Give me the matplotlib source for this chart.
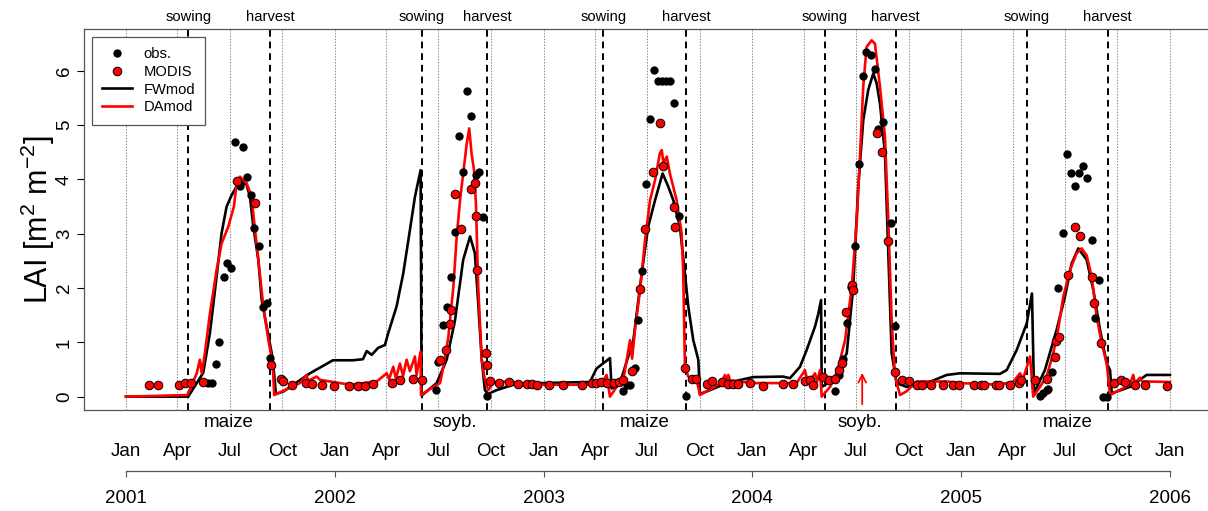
import matplotlib.pyplot as plt
import numpy as np

plt.rcParams['font.family'] = ['Liberation Sans', 'DejaVu Sans']
plt.rcParams['mathtext.default'] = 'regular'

# time axis is in decimal years
fw_t = [2001.000, 2001.298, 2001.370, 2001.402, 2001.434, 2001.458, 2001.482, 2001.506, 2001.530, 2001.554,
        2001.578, 2001.594, 2001.610, 2001.634, 2001.650, 2001.674, 2001.698, 2001.705, 2001.718, 2001.752,
        2001.881, 2001.991, 2002.087, 2002.135, 2002.153, 2002.177, 2002.208, 2002.240, 2002.256, 2002.296,
        2002.328, 2002.360, 2002.384, 2002.411, 2002.416, 2002.488, 2002.536, 2002.576, 2002.615, 2002.648,
        2002.671, 2002.687, 2002.704, 2002.719, 2002.734, 2002.775, 2002.855, 2002.983, 2003.222, 2003.254,
        2003.318, 2003.326, 2003.366, 2003.430, 2003.470, 2003.501, 2003.534, 2003.570, 2003.597, 2003.621,
        2003.653, 2003.677, 2003.693, 2003.717, 2003.741, 2003.749, 2003.797, 2003.877, 2004.003, 2004.147,
        2004.180, 2004.228, 2004.260, 2004.300, 2004.316, 2004.329, 2004.332, 2004.387, 2004.452, 2004.483,
        2004.507, 2004.531, 2004.555, 2004.579, 2004.595, 2004.611, 2004.635, 2004.651, 2004.667, 2004.691,
        2004.739, 2004.835, 2004.931, 2004.994, 2005.186, 2005.218, 2005.266, 2005.314, 2005.339, 2005.349,
        2005.401, 2005.457, 2005.497, 2005.529, 2005.561, 2005.601, 2005.633, 2005.665, 2005.697, 2005.713,
        2005.721, 2005.808, 2005.888, 2006.000]
fw_lai = [0.00, 0.00, 0.44, 1.17, 2.21, 3.01, 3.50, 3.71, 3.87, 3.96,
          3.90, 3.68, 3.13, 2.52, 1.78, 1.29, 0.80, 0.62, 0.05, 0.09,
          0.43, 0.67, 0.67, 0.69, 0.84, 0.77, 0.90, 0.95, 1.17, 1.66,
          2.27, 3.07, 3.68, 4.17, 0.02, 0.25, 0.68, 1.41, 2.52, 2.95,
          2.64, 1.72, 0.68, 0.12, 0.05, 0.12, 0.22, 0.25, 0.27, 0.52,
          0.71, 0.15, 0.25, 1.04, 2.27, 3.13, 3.62, 4.11, 3.87, 3.62,
          3.13, 2.27, 1.66, 1.04, 0.68, 0.05, 0.12, 0.25, 0.36, 0.37,
          0.34, 0.55, 0.86, 1.29, 1.53, 1.78, 0.18, 0.31, 0.80, 2.02,
          3.87, 5.09, 5.65, 5.95, 5.77, 5.40, 4.48, 2.64, 0.80, 0.25,
          0.18, 0.25, 0.40, 0.43, 0.42, 0.49, 0.86, 1.35, 1.90, 0.06,
          0.49, 1.23, 1.84, 2.45, 2.73, 2.52, 1.96, 1.23, 0.61, 0.49,
          0.06, 0.18, 0.40, 0.40]

da_t = [2001.000, 2001.294, 2001.339, 2001.354, 2001.363, 2001.378, 2001.402, 2001.434, 2001.458, 2001.490,
        2001.517, 2001.530, 2001.546, 2001.578, 2001.602, 2001.613, 2001.634, 2001.658, 2001.682, 2001.703,
        2001.710, 2001.833, 2001.865, 2001.872, 2001.913, 2001.929, 2001.977, 2002.073, 2002.201, 2002.249,
        2002.260, 2002.280, 2002.293, 2002.312, 2002.327, 2002.344, 2002.360, 2002.384, 2002.392, 2002.411,
        2002.413, 2002.472, 2002.504, 2002.520, 2002.544, 2002.568, 2002.584, 2002.600, 2002.615, 2002.632,
        2002.644, 2002.655, 2002.667, 2002.676, 2002.687, 2002.704, 2002.719, 2002.735, 2002.759, 2002.823,
        2002.983, 2003.206, 2003.278, 2003.302, 2003.318, 2003.350, 2003.382, 2003.398, 2003.414, 2003.424,
        2003.438, 2003.462, 2003.486, 2003.510, 2003.534, 2003.557, 2003.566, 2003.574, 2003.590, 2003.605,
        2003.637, 2003.661, 2003.669, 2003.677, 2003.693, 2003.733, 2003.749, 2003.781, 2003.849, 2003.869,
        2003.878, 2003.885, 2003.893, 2004.003, 2004.212, 2004.252, 2004.266, 2004.300, 2004.310, 2004.324,
        2004.332, 2004.372, 2004.404, 2004.444, 2004.476, 2004.500, 2004.516, 2004.531, 2004.547, 2004.571,
        2004.587, 2004.611, 2004.635, 2004.651, 2004.667, 2004.683, 2004.707, 2004.739, 2004.787, 2004.931,
        2004.994, 2005.186, 2005.250, 2005.282, 2005.296, 2005.330, 2005.345, 2005.377, 2005.409, 2005.441,
        2005.464, 2005.489, 2005.521, 2005.553, 2005.577, 2005.601, 2005.625, 2005.649, 2005.673, 2005.697,
        2005.713, 2005.808, 2005.824, 2005.832, 2005.856, 2005.866, 2005.888, 2005.984, 2006.000]
da_lai = [0.00, 0.03, 0.43, 0.68, 0.43, 0.80, 1.53, 2.33, 2.82, 3.13,
          3.50, 3.93, 4.05, 3.93, 3.68, 3.25, 2.52, 1.66, 1.04, 0.61,
          0.03, 0.25, 0.40, 0.29, 0.37, 0.31, 0.28, 0.22, 0.28, 0.43,
          0.32, 0.55, 0.33, 0.61, 0.38, 0.68, 0.47, 0.74, 0.40, 0.83,
          0.03, 0.18, 0.25, 0.55, 1.10, 2.02, 2.95, 3.62, 4.11, 4.66,
          4.94, 4.48, 4.17, 3.56, 2.02, 0.68, 0.31, 0.12, 0.25, 0.28,
          0.22, 0.22, 0.25, 0.40, 0.00, 0.18, 0.31, 0.68, 1.04, 0.70,
          1.23, 1.96, 2.88, 3.62, 3.99, 4.48, 4.54, 4.30, 4.42, 4.11,
          3.62, 3.01, 2.27, 0.55, 0.37, 0.31, 0.03, 0.10, 0.25, 0.40,
          0.28, 0.40, 0.30, 0.25, 0.25, 0.49, 0.25, 0.43, 0.28, 0.49,
          0.00, 0.18, 0.43, 1.04, 2.02, 3.25, 4.48, 5.71, 6.44, 6.56,
          6.50, 5.71, 4.79, 3.25, 1.41, 0.37, 0.03, 0.10, 0.28, 0.28,
          0.25, 0.22, 0.28, 0.43, 0.32, 0.74, 0.00, 0.18, 0.37, 0.80,
          1.23, 1.84, 2.33, 2.64, 2.73, 2.60, 2.21, 1.47, 0.98, 0.61,
          0.03, 0.22, 0.40, 0.25, 0.35, 0.28, 0.28, 0.27, 0.27]

obs_t = [2001.394, 2001.410, 2001.431, 2001.447, 2001.469, 2001.485, 2001.501, 2001.522, 2001.546, 2001.559,
         2001.578, 2001.597, 2001.613, 2001.637, 2001.658, 2001.674, 2001.690,
         2002.485, 2002.496, 2002.520, 2002.536, 2002.555, 2002.576, 2002.596, 2002.615, 2002.632,
         2002.651, 2002.675, 2002.691, 2002.708, 2002.730,
         2003.379, 2003.398, 2003.414, 2003.430, 2003.438, 2003.454, 2003.473, 2003.490, 2003.511, 2003.530,
         2003.546, 2003.566, 2003.585, 2003.605, 2003.626, 2003.648, 2003.682,
         2004.396, 2004.415, 2004.432, 2004.454, 2004.471, 2004.491, 2004.512, 2004.528, 2004.544, 2004.567,
         2004.587, 2004.603, 2004.624, 2004.664, 2004.683,
         2005.377, 2005.393, 2005.409, 2005.417, 2005.433, 2005.452, 2005.465, 2005.486, 2005.505, 2005.526,
         2005.545, 2005.566, 2005.585, 2005.601, 2005.626, 2005.639, 2005.661, 2005.678, 2005.697]
obs_lai = [0.25, 0.25, 0.61, 1.01, 2.21, 2.47, 2.36, 4.69, 3.88, 4.60,
           4.05, 3.71, 3.10, 2.77, 1.66, 1.72, 0.71,
           0.12, 0.63, 1.32, 1.66, 2.21, 3.04, 4.80, 4.14, 5.63,
           5.17, 4.08, 4.14, 3.30, 0.01,
           0.11, 0.22, 0.22, 0.49, 0.52, 1.41, 2.31, 3.92, 5.11, 6.01,
           5.81, 5.81, 5.81, 5.81, 5.41, 3.33, 0.01,
           0.11, 0.40, 0.69, 1.35, 2.02, 2.78, 4.28, 5.91, 6.35, 6.29,
           6.03, 4.93, 5.06, 3.19, 1.30,
           0.01, 0.06, 0.12, 0.15, 0.45, 1.02, 2.01, 3.02, 4.47, 4.12,
           3.88, 4.11, 4.25, 4.02, 2.88, 1.44, 2.15, 0.00, 0.00]

modis_t = [2001.110, 2001.155, 2001.255, 2001.283, 2001.310, 2001.367, 2001.530, 2001.618, 2001.696, 2001.741,
           2001.753, 2001.794, 2001.862, 2001.889, 2001.937, 2001.998, 2002.069, 2002.113, 2002.145, 2002.184,
           2002.273, 2002.312, 2002.376, 2002.416, 2002.504, 2002.533, 2002.552, 2002.555, 2002.576, 2002.603,
           2002.651, 2002.670, 2002.676, 2002.679, 2002.723, 2002.728, 2002.743, 2002.786, 2002.836, 2002.879,
           2002.919, 2002.943, 2002.967, 2003.026, 2003.094, 2003.182, 2003.230, 2003.251, 2003.275, 2003.302,
           2003.337, 2003.361, 2003.382, 2003.422, 2003.462, 2003.486, 2003.522, 2003.557, 2003.573, 2003.626,
           2003.629, 2003.677, 2003.709, 2003.730, 2003.781, 2003.805, 2003.853, 2003.885, 2003.907, 2003.933,
           2003.989, 2004.052, 2004.148, 2004.196, 2004.252, 2004.276, 2004.292, 2004.340, 2004.368, 2004.396,
           2004.415, 2004.429, 2004.449, 2004.476, 2004.480, 2004.595, 2004.619, 2004.651, 2004.681, 2004.715,
           2004.750, 2004.787, 2004.811, 2004.854, 2004.914, 2004.959, 2004.989, 2005.063, 2005.093, 2005.109,
           2005.167, 2005.181, 2005.234, 2005.278, 2005.287, 2005.353, 2005.409, 2005.449, 2005.454, 2005.468,
           2005.513, 2005.545, 2005.569, 2005.628, 2005.637, 2005.671, 2005.733, 2005.765, 2005.784, 2005.832,
           2005.880, 2005.984]
modis_lai = [0.22, 0.22, 0.22, 0.26, 0.26, 0.27, 3.97, 3.56, 0.58, 0.32,
             0.28, 0.21, 0.26, 0.23, 0.22, 0.20, 0.20, 0.20, 0.20, 0.23,
             0.25, 0.30, 0.33, 0.31, 0.68, 0.86, 1.33, 1.60, 3.73, 3.08,
             3.82, 3.93, 3.33, 2.34, 0.80, 0.58, 0.28, 0.26, 0.27, 0.24,
             0.23, 0.23, 0.22, 0.22, 0.22, 0.22, 0.26, 0.26, 0.27, 0.26,
             0.26, 0.27, 0.31, 0.47, 1.98, 3.09, 4.14, 5.03, 4.25, 3.49,
             3.13, 0.52, 0.32, 0.32, 0.24, 0.28, 0.27, 0.24, 0.24, 0.24,
             0.25, 0.20, 0.24, 0.24, 0.28, 0.31, 0.22, 0.36, 0.30, 0.33,
             0.49, 0.62, 1.55, 2.06, 1.96, 4.85, 4.50, 2.87, 0.45, 0.31,
             0.28, 0.22, 0.22, 0.22, 0.22, 0.22, 0.22, 0.21, 0.22, 0.22,
             0.21, 0.22, 0.22, 0.26, 0.30, 0.30, 0.33, 0.73, 1.03, 1.10,
             2.24, 3.12, 2.96, 2.21, 1.73, 0.98, 0.26, 0.31, 0.27, 0.22,
             0.22, 0.20]

sowing = [2001.298, 2002.418, 2003.286, 2004.346, 2005.315]
harvest = [2001.690, 2002.730, 2003.683, 2004.686, 2005.702]
crops = ['maize', 'soyb.', 'maize', 'soyb.', 'maize']
years = [2001, 2002, 2003, 2004, 2005, 2006]
month_names = ['Jan', 'Apr', 'Jul', 'Oct']
month_days = [0, 90, 181, 273]
arrow_t = 2004.526

fig = plt.figure(figsize=(12.08, 5.11), dpi=100)
ax = fig.add_axes([0.0697, 0.1977, 0.9334, 0.7456])

# quarter grid lines
quarters = [y + d / 365.0 for y in years[:-1] for d in month_days] + [years[-1]]
q_labels = [m for y in years[:-1] for m in month_names] + ['Jan']
for q in quarters:
    ax.axvline(q, color='#888888', linestyle=(0, (1.5, 1.5)), lw=0.7, zorder=1)

# sowing / harvest
for s, h, c in zip(sowing, harvest, crops):
    ax.axvline(s, color='black', linestyle=(0, (3.5, 2.5)), lw=1.4, zorder=1)
    ax.axvline(h, color='black', linestyle=(0, (3.5, 2.5)), lw=1.4, zorder=1)
    ax.text(s, 1.022, 'sowing', transform=ax.get_xaxis_transform(), ha='center', va='baseline', fontsize=10.6)
    ax.text(h, 1.022, 'harvest', transform=ax.get_xaxis_transform(), ha='center', va='baseline', fontsize=10.6)
    ax.text((s + h) / 2, -0.044, c, transform=ax.get_xaxis_transform(), ha='center', va='baseline', fontsize=13.5)

ax.plot(fw_t, fw_lai, color='black', lw=1.9, label='FWmod', zorder=2)
ax.plot(da_t, da_lai, color='#ff0000', lw=1.9, label='DAmod', zorder=2.5)
ax.plot(obs_t, obs_lai, 'o', color='black', ms=6, mew=0, label='obs.', zorder=3)
ax.plot(modis_t, modis_lai, 'o', mfc='#ff0000', mec='black', ms=6.2, mew=0.7, label='MODIS', zorder=4)

ax.annotate('', xy=(arrow_t, 0.49), xytext=(arrow_t, -0.19),
            arrowprops=dict(arrowstyle='->', color='#ff0000', lw=1.3, mutation_scale=14))

ax.set_xlim(2000.8, 2006.2)
ax.set_ylim(-0.245, 6.77)

ax.set_yticks(range(7))
ax.tick_params(axis='y', labelsize=13.5, length=5, width=0.8, labelrotation=90, pad=3)
for lab in ax.get_yticklabels():
    lab.set_va('center')

ax.set_xticks(quarters)
ax.set_xticklabels(q_labels)
ax.tick_params(axis='x', length=0, labelsize=13.5, pad=24)

for sp in ['left', 'top', 'bottom']:
    ax.spines[sp].set_color('#555555')
    ax.spines[sp].set_linewidth(0.9)
ax.spines['right'].set_visible(False)

# year axis
sec = ax.secondary_xaxis(-0.160)
sec.set_xticks(years)
sec.set_xticklabels([str(y) for y in years])
sec.tick_params(axis='x', length=4.5, width=0.8, labelsize=13.5, pad=9, color='#555555')
sec.spines['bottom'].set_bounds(years[0], years[-1])
sec.spines['bottom'].set_color('#555555')
sec.spines['bottom'].set_linewidth(0.9)

fig.text(38 / 1208, 1 - 219.5 / 511, r'LAI [m$^2$ m$^{-2}$]', rotation=90, ha='center', va='center', fontsize=22)

handles, labels = ax.get_legend_handles_labels()
order = [2, 3, 0, 1]
leg = ax.legend([handles[i] for i in order], [labels[i] for i in order], loc='upper left',
                bbox_to_anchor=(0.0069, 0.979), borderaxespad=0, fontsize=10.6, fancybox=False,
                edgecolor='#555555', framealpha=1, handlelength=2.0, handletextpad=0.8,
                labelspacing=0.25, borderpad=0.7)
leg.get_frame().set_linewidth(0.9)

fig.savefig('out.png', dpi=100)
